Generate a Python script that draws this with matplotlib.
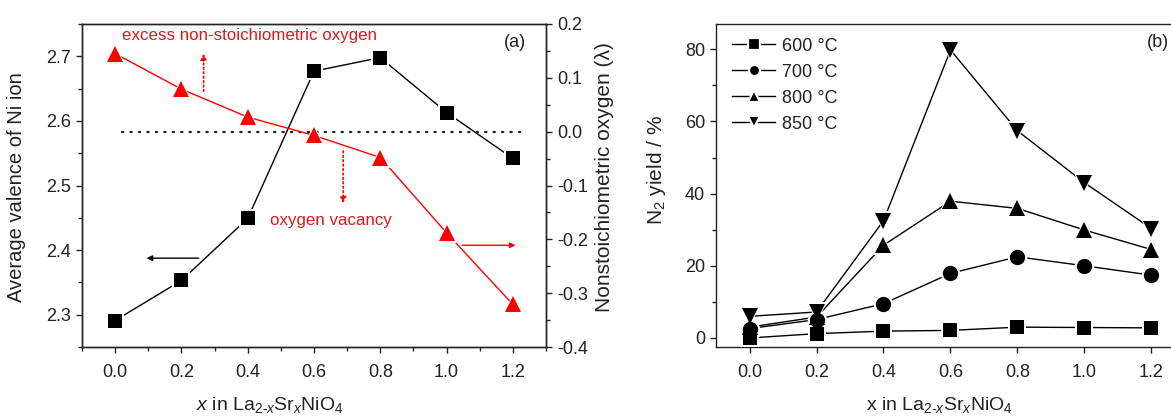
import matplotlib
matplotlib.use("Agg")
import matplotlib.pyplot as plt
from matplotlib.ticker import MultipleLocator
from matplotlib.lines import Line2D

plt.rcParams['font.family'] = ['Liberation Sans', 'DejaVu Sans']
plt.rcParams['mathtext.fontset'] = 'custom'
plt.rcParams['mathtext.rm'] = 'Liberation Sans'
plt.rcParams['mathtext.it'] = 'Liberation Sans:italic'

# ---------------- data ----------------
x_vals = [0.0, 0.2, 0.4, 0.6, 0.8, 1.0, 1.2]
ni_valence = [2.291, 2.353, 2.449, 2.677, 2.698, 2.613, 2.542]
nonstoich_oxygen = [0.145, 0.079, 0.027, -0.007, -0.048, -0.188, -0.321]

yield_600 = [0.0, 1.2, 1.9, 2.1, 3.0, 2.9, 2.8]
yield_700 = [2.6, 5.1, 9.5, 17.9, 22.5, 20.0, 17.4]
yield_800 = [3.0, 5.8, 25.7, 37.9, 35.9, 29.9, 24.5]
yield_850 = [6.0, 7.2, 32.5, 79.8, 57.4, 43.0, 30.3]
temp_labels = ['600 °C', '700 °C', '800 °C', '850 °C']

xticks = [0.0, 0.2, 0.4, 0.6, 0.8, 1.0, 1.2]
left_yticks = [2.3, 2.4, 2.5, 2.6, 2.7]
right_yticks = [-0.4, -0.3, -0.2, -0.1, 0.0, 0.1, 0.2]
yield_yticks = [0, 20, 40, 60, 80]

RED = '#ff0000'
TXT_RED = '#dd1a1a'
INK = '#222222'

W, H = 1171, 416
fig = plt.figure(figsize=(W / 100, H / 100), dpi=100)

def px_rect(x0, y0, x1, y1):
    return [x0 / W, 1 - y1 / H, (x1 - x0) / W, (y1 - y0) / H]

axA = fig.add_axes(px_rect(82, 24, 546, 347))
axA2 = axA.twinx()
axB = fig.add_axes(px_rect(716, 24, 1185, 347))

def style_axis(ax):
    for s in ax.spines.values():
        s.set_linewidth(1.0)
        s.set_color(INK)
    ax.tick_params(which='both', direction='out', width=1.0, colors=INK,
                   labelsize=13, labelcolor=INK)
    ax.tick_params(which='major', length=4.5)
    ax.tick_params(which='minor', length=3.0)
    ax.tick_params(axis='x', which='major', pad=8)

def gap_plot(ax, xs, ys, marker, ms, color, gap=3.0, lw=1.0, z=3):
    ax.plot(xs, ys, '-', color=color, lw=lw, zorder=z)
    ax.plot(xs, ys, linestyle='none', marker=marker, ms=ms + gap, mfc='white',
            mec='white', mew=0, zorder=z + 1)

def marks(ax, xs, ys, marker, ms, color, z=5):
    ax.plot(xs, ys, linestyle='none', marker=marker, ms=ms, mfc=color, mec=color,
            mew=0, zorder=z)

# ---------------- panel (a) ----------------
style_axis(axA)
style_axis(axA2)
axA.set_xlim(-0.1, 1.3)
axA.set_ylim(2.25, 2.75)
axA2.set_ylim(-0.4, 0.2)
axA.set_xticks(xticks)
axA.xaxis.set_minor_locator(MultipleLocator(0.1))
axA.set_yticks(left_yticks)
axA.yaxis.set_minor_locator(MultipleLocator(0.05))
axA2.set_yticks(right_yticks)
axA2.yaxis.set_minor_locator(MultipleLocator(0.05))
axA.set_xticklabels([f'{v:.1f}' for v in xticks])
axA.set_yticklabels([f'{v:.1f}' for v in left_yticks])
axA2.set_yticklabels([f'{v:.1f}' for v in right_yticks])

# zero line
axA2.plot([0.02, 1.24], [0, 0], color=INK, lw=1.6, linestyle=(0, (0.6, 3.2)),
          dash_capstyle='round', zorder=1)

gap_plot(axA, x_vals, ni_valence, 's', 10.5, 'black', gap=3)
gap_plot(axA2, x_vals, nonstoich_oxygen, '^', 12, RED, gap=3)
marks(axA, x_vals, ni_valence, 's', 10.5, 'black')
marks(axA2, x_vals, nonstoich_oxygen, '^', 12, RED)

axA2.text(0.022, 0.178, 'excess non-stoichiometric oxygen', color=TXT_RED,
          fontsize=12.2, ha='left', va='center')
axA2.text(0.466, -0.165, 'oxygen vacancy', color=TXT_RED, fontsize=12.2,
          ha='left', va='center')
axA2.text(1.206, 0.166, '(a)', color=INK, fontsize=13, ha='center', va='center')

# arrows
axA2.annotate('', xy=(0.267, 0.145), xytext=(0.267, 0.075),
              arrowprops=dict(arrowstyle='-|>', color=RED, lw=1.2, linestyle=':',
                              mutation_scale=9, shrinkA=0, shrinkB=0))
axA2.annotate('', xy=(0.688, -0.133), xytext=(0.688, -0.036),
              arrowprops=dict(arrowstyle='-|>', color=RED, lw=1.2, linestyle=':',
                              mutation_scale=9, shrinkA=0, shrinkB=0))
axA.annotate('', xy=(0.095, 2.3875), xytext=(0.252, 2.3875),
             arrowprops=dict(arrowstyle='-|>', color='black', lw=1.0,
                             mutation_scale=8, shrinkA=0, shrinkB=0))
axA2.annotate('', xy=(1.208, -0.211), xytext=(1.047, -0.211),
              arrowprops=dict(arrowstyle='-|>', color=RED, lw=1.0,
                              mutation_scale=8, shrinkA=0, shrinkB=0))

# ---------------- panel (b) ----------------
style_axis(axB)
axB.set_xlim(-0.1, 1.3)
axB.set_ylim(-2.5, 87)
axB.set_xticks(xticks)
axB.set_xticklabels([f'{v:.1f}' for v in xticks])
axB.set_yticks(yield_yticks)
axB.yaxis.set_minor_locator(MultipleLocator(10))

series = [(yield_600, 's', 10), (yield_700, 'o', 11), (yield_800, '^', 12), (yield_850, 'v', 12)]
for ys, mk, ms in series:
    axB.plot(x_vals, ys, '-', color='black', lw=1.0, zorder=3)
for ys, mk, ms in series:
    axB.plot(x_vals, ys, linestyle='none', marker=mk, ms=ms + 3, mfc='white', mec='white',
             mew=0, zorder=4)
for ys, mk, ms in series:
    marks(axB, x_vals, ys, mk, ms, 'black', z=5)

handles = [Line2D([], [], color='black', lw=1.0, marker=mk, ms=8, mfc='black',
                  mec='white', mew=1.6) for _, mk, _ in series]
leg = axB.legend(handles, temp_labels, loc='upper left', bbox_to_anchor=(0.034, 0.958),
                 frameon=False, fontsize=13, handlelength=2.4, handletextpad=0.35,
                 labelspacing=0.5, borderpad=0, borderaxespad=0)
for t in leg.get_texts():
    t.set_color(INK)
axB.text(1.22, 82, '(b)', color=INK, fontsize=13, ha='center', va='center')

# ---------------- axis labels ----------------
fig.text(17 / W, 1 - 187 / H, 'Average valence of Ni ion', rotation=90,
         ha='center', va='center', fontsize=14.5, color=INK)
fig.text(605 / W, 1 - 177 / H, 'Nonstoichiometric oxygen (λ)', rotation=90,
         ha='center', va='center', fontsize=15, color=INK)
fig.text(657 / W, 1 - 170 / H, r'N$_2$ yield / %', rotation=90,
         ha='center', va='center', fontsize=15, color=INK)
fig.text(270 / W, 1 - 405 / H, r'$x$ in La$_{2\text{-}x}$Sr$_x$NiO$_4$',
         ha='center', va='center', fontsize=14, color=INK)
fig.text(939 / W, 1 - 405 / H, r'x in La$_{2\text{-}x}$Sr$_x$NiO$_4$',
         ha='center', va='center', fontsize=14, color=INK)

fig.savefig('out.png', dpi=100)
